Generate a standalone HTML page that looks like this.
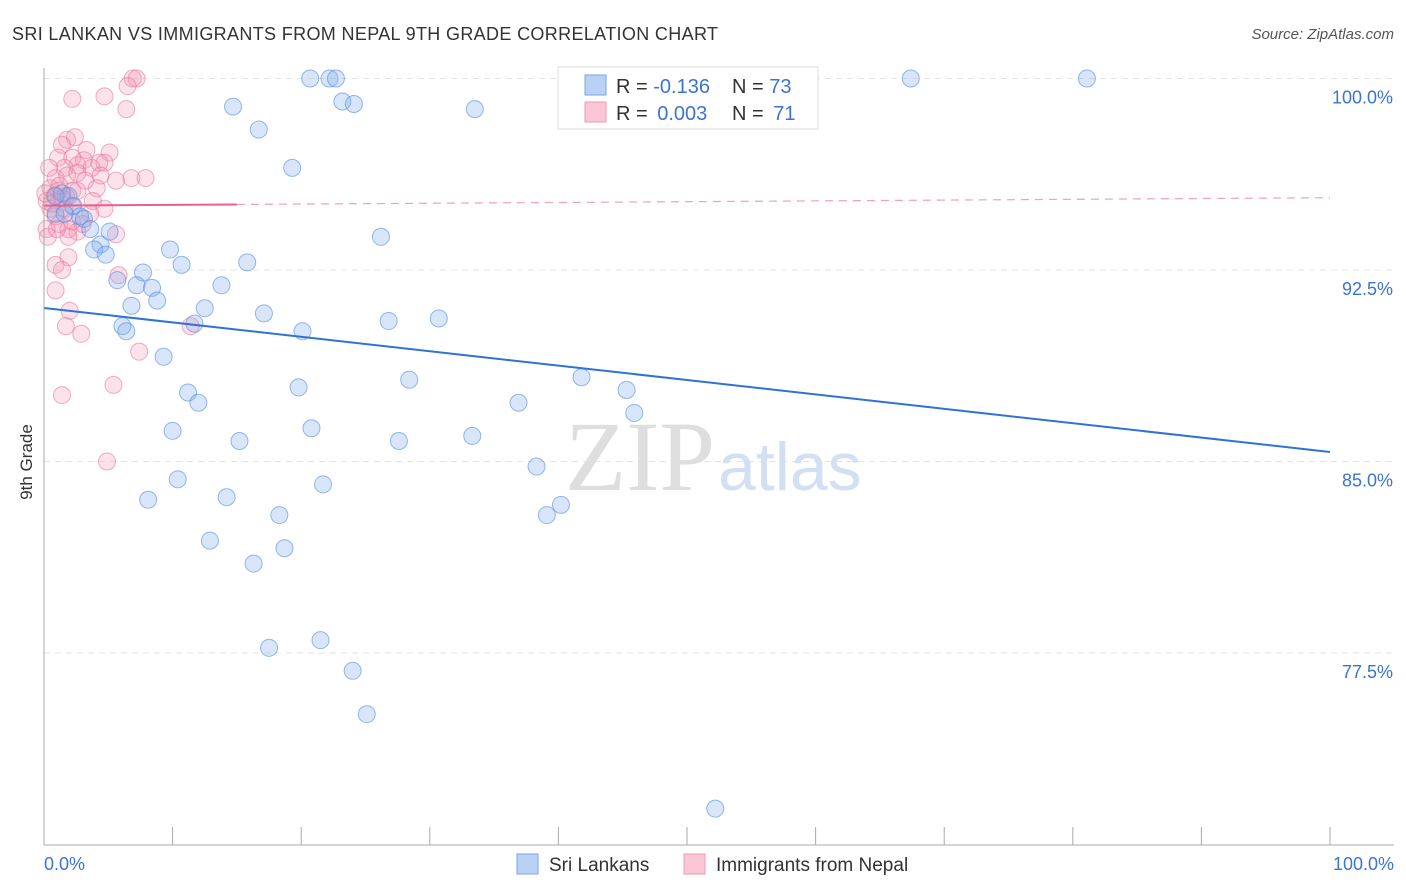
<!DOCTYPE html>
<html><head><meta charset="utf-8"><style>
body{margin:0;background:#fff;font-family:"Liberation Sans",sans-serif;}
svg{display:block}
</style></head><body>
<svg id="chart" width="1406" height="892" xmlns="http://www.w3.org/2000/svg">
<text x="12" y="40" font-size="18" fill="#333" textLength="706">SRI LANKAN VS IMMIGRANTS FROM NEPAL 9TH GRADE CORRELATION CHART</text>
<text x="1394" y="39" font-size="15" fill="#555" font-style="italic" text-anchor="end">Source: ZipAtlas.com</text>
<g id="grid"></g>
<text x="715" y="490" font-size="100" fill="#dedede" text-anchor="end" font-family="Liberation Serif,serif">ZIP</text>
<text x="718" y="490" font-size="68" fill="#d3e0f3">atlas</text>
<g id="pts"></g>
<g id="axes"></g>
<text x="32" y="462" font-size="17" fill="#333" text-anchor="middle" transform="rotate(-90 32 462)">9th Grade</text>
<g>
<rect x="558" y="67" width="260" height="62" fill="#fff" stroke="#ddd"/>
<rect x="585" y="75" width="21" height="20" fill="#b9d1f4" stroke="#7aa5e6"/>
<rect x="585" y="102" width="21" height="20" fill="#fbc6d6" stroke="#ef9ab6"/>
<text x="616" y="93" font-size="20" fill="#333">R = <tspan fill="#3b74d4">-0.136</tspan></text>
<text x="732" y="93" font-size="20" fill="#333">N = <tspan fill="#3b74d4">73</tspan></text>
<text x="616" y="120" font-size="20" fill="#333">R = <tspan fill="#3b74d4" dx="4">0.003</tspan></text>
<text x="732" y="120" font-size="20" fill="#333">N = <tspan fill="#3b74d4" dx="4">71</tspan></text>
</g>
<g>
<rect x="517" y="854" width="21" height="20" fill="#b9d1f4" stroke="#7aa5e6"/>
<text x="549" y="871" font-size="19" fill="#333">Sri Lankans</text>
<rect x="684" y="854" width="21" height="20" fill="#fbc6d6" stroke="#ef9ab6"/>
<text x="716" y="871" font-size="19" fill="#333">Immigrants from Nepal</text>
</g>
</svg>
<script>
const yTicks=[100,92.5,85,77.5];
const yTickLabels=["100.0%","92.5%","85.0%","77.5%"];
const xTickLabels=["0.0%","100.0%"];
const blueX=[20.7,22.2,22.7,67.4,81.1,14.7,23.2,24.1,33.5,16.7,19.3,1.4,1.9,0.9,2.3,0.9,2.8,3.1,1.6,3.6,5.1,4.4,26.2,3.9,4.8,9.8,10.7,7.7,15.8,5.7,7.2,8.4,8.8,13.8,6.8,12.5,17.1,6.1,6.4,11.7,20.1,26.8,30.7,9.3,11.2,12.0,19.8,28.4,41.8,45.3,36.9,45.9,10.0,15.2,20.8,27.6,33.3,38.3,10.4,8.1,14.2,21.7,18.3,39.1,40.2,12.9,16.3,18.7,17.5,21.5,24.0,25.1,52.2];
const blueY=[100,100,100,100,100,98.9,99.1,99.0,98.8,98.0,96.5,95.5,95.4,95.4,95.0,94.7,94.6,94.5,94.7,94.1,94.0,93.5,93.8,93.3,93.1,93.3,92.7,92.4,92.8,92.1,91.9,91.8,91.3,91.9,91.1,91.0,90.8,90.3,90.1,90.4,90.1,90.5,90.6,89.1,87.7,87.3,87.9,88.2,88.3,87.8,87.3,86.9,86.2,85.8,86.3,85.8,86.0,84.8,84.3,83.5,83.6,84.1,82.9,82.9,83.3,81.9,81.0,81.6,77.7,78.0,76.8,75.1,71.4];
const pinkX=[6.9,7.2,6.5,2.2,4.7,6.4,1.8,2.4,1.4,3.3,5.1,1.1,2.2,3.1,4.7,2.6,1.6,3.7,4.3,0.4,0.9,1.8,2.6,4.4,5.6,6.8,7.9,0.5,1.1,2.2,2.6,4.1,0.8,1.4,0.2,0.5,1.6,2.2,3.8,4.7,0.9,1.2,2.2,0.2,1.9,2.6,5.6,0.3,1.9,1.9,0.9,1.4,5.8,0.9,2.0,1.7,2.9,11.4,7.4,1.4,5.4,4.9,0.1,0.6,1.7,3.2,1.0,3.6,3.0,1.2];
const pinkY=[100,100,99.7,99.2,99.3,98.8,97.6,97.7,97.4,97.2,97.1,96.9,96.9,96.8,96.7,96.6,96.5,96.5,96.7,96.5,96.1,96.2,96.3,96.2,96.0,96.1,96.1,95.7,95.6,95.6,95.6,95.7,95.4,95.3,95.2,94.9,94.9,95.0,95.2,94.9,94.6,94.3,94.4,94.1,94.1,94.0,93.9,93.8,93.8,93.0,92.7,92.5,92.3,91.7,90.9,90.3,90.0,90.3,89.3,87.6,88.0,85.0,95.5,95.1,95.4,96.0,94.1,94.7,94.3,95.8];
const blueTrend=[91.01,85.37];
const pinkTrend=[95.02,95.33];
const pinkSolidEnd=15;
const NS="http://www.w3.org/2000/svg";
const X=v=>44+v*12.86, Y=v=>78.5+(100-v)*25.53;
function mk(tag,attrs,parent){const e=document.createElementNS(NS,tag);for(const k in attrs)e.setAttribute(k,attrs[k]);parent.appendChild(e);return e;}
const grid=document.getElementById('grid'),axes=document.getElementById('axes'),pts=document.getElementById('pts');
yTicks.forEach((t,i)=>{
 const l=mk('line',{x1:44,x2:1394,y1:Y(t),y2:Y(t),stroke:'#e4e4e4','stroke-dasharray':'6,5'},grid);
 
 
 const tx=mk('text',{x:1393,y:Y(t)+25,'font-size':18,fill:'#3b74d4','text-anchor':'end'},axes);
 tx.textContent=yTickLabels[i];
 
 
});
const ax=mk('line',{x1:44,x2:44,y1:68,y2:845,stroke:'#aaa'},axes);


const bx=mk('line',{x1:44,x2:1394,y1:845,y2:845,stroke:'#aaa'},axes);


for(let i=0;i<=10;i++){const t=mk('line',{x1:X(i*10),x2:X(i*10),y1:827,y2:845,stroke:'#aaa'},axes);
 
 }
[[0,'start',44],[100,'end',1394]].forEach((d,i)=>{const t=mk('text',{x:d[2],y:870,'font-size':18,fill:'#3b74d4','text-anchor':d[1]},axes);t.textContent=xTickLabels[i];
 
 });
pinkX.forEach((x,i)=>{const c=mk('circle',{cx:X(x),cy:Y(pinkY[i]),r:8.5,fill:'rgba(244,150,180,0.28)',stroke:'rgba(232,120,160,0.6)','stroke-width':1},pts);
 
 });
blueX.forEach((x,i)=>{const c=mk('circle',{cx:X(x),cy:Y(blueY[i]),r:8.5,fill:'rgba(130,172,235,0.3)',stroke:'rgba(80,140,225,0.6)','stroke-width':1},pts);
 
 });
const bt=mk('line',{x1:X(0),y1:Y(blueTrend[0]),x2:X(100),y2:Y(blueTrend[1]),stroke:'#2f72d8','stroke-width':2},pts);


const pAt=x=>pinkTrend[0]+(pinkTrend[1]-pinkTrend[0])*x/100;
const ps=mk('line',{x1:X(0),y1:Y(pAt(0)),x2:X(pinkSolidEnd),y2:Y(pAt(pinkSolidEnd)),stroke:'#e8608e','stroke-width':2},pts);


const pd=mk('line',{x1:X(pinkSolidEnd),y1:Y(pAt(pinkSolidEnd)),x2:X(100),y2:Y(pAt(100)),stroke:'#efa0bb','stroke-width':1.2,'stroke-dasharray':'8,6'},pts);


</script>
</body></html>
